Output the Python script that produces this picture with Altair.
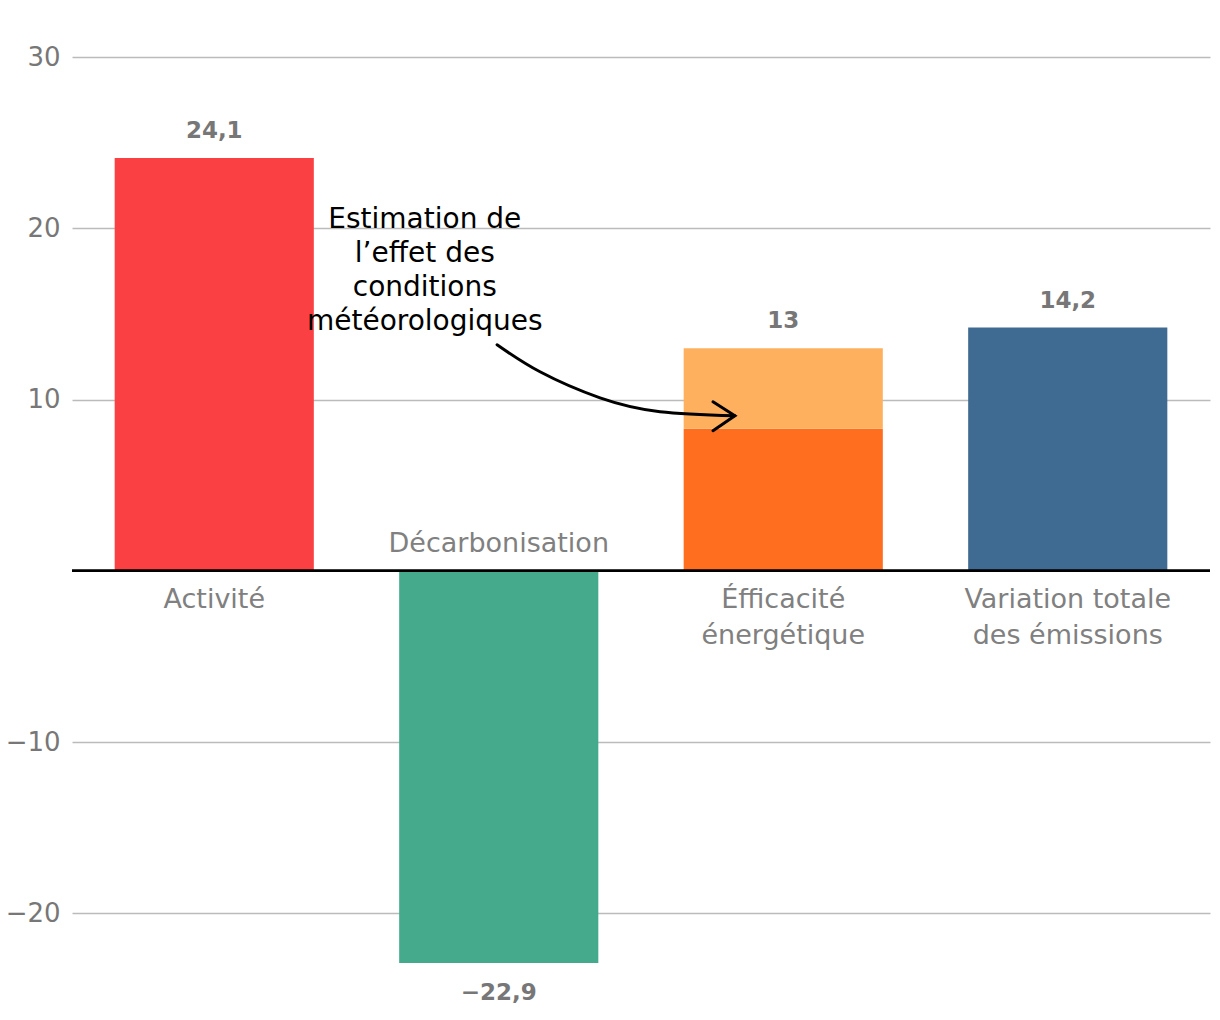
import altair as alt
import pandas as pd

FONT = "DejaVu Sans"

# Bars (segments)
categories = ["Activité", "Décarbonisation", "Éfficacité énergétique", "Variation totale des émissions"]
seg_cat = ["Activité", "Décarbonisation", "Éfficacité énergétique", "Éfficacité énergétique",
           "Variation totale des émissions"]
seg_start = [0, 0, 0, 8.3, 0]
seg_end = [24.1, -22.9, 8.3, 13.0, 14.2]
seg_color = ["#FA4043", "#44AA8B", "#FF6D1F", "#FFB05F", "#3F6A91"]

# Totals
totals = [24.1, -22.9, 13.0, 14.2]
total_labels = ["24,1", "−22,9", "13", "14,2"]

# Category label lines
cat_lines = [["Activité"], ["Décarbonisation"], ["Éfficacité", "énergétique"],
             ["Variation totale", "des émissions"]]

# Annotation (x in band units, 0..4)
note_lines = ["Estimation de", "l’effet des", "conditions", "météorologiques"]
note_x = [1.24]
note_y = [20.5]
arrow_x = [1.494, 1.645, 1.856, 2.067, 2.330]
arrow_y = [13.20, 11.62, 10.10, 9.29, 9.05]
head_x = [2.253, 2.330, 2.253]
head_y = [9.87, 9.05, 8.18]

y_ticks = [-20, -10, 10, 20, 30]

seg_df = pd.DataFrame({"cat": seg_cat, "start": seg_start, "end": seg_end, "color": seg_color})
tot_df = pd.DataFrame({"cat": categories, "total": totals, "label": total_labels,
                       "lines": cat_lines})
note_df = pd.DataFrame({"x": note_x, "y": note_y, "t": [note_lines]})
arrow_df = pd.DataFrame({"x": arrow_x, "y": arrow_y, "o": list(range(len(arrow_x)))})
head_df = pd.DataFrame({"x": head_x, "y": head_y, "o": list(range(len(head_x)))})

yscale = alt.Scale(domain=[-25, 30], nice=False, zero=False)
xband = alt.X("cat:N", sort=categories, axis=None,
              scale=alt.Scale(paddingInner=0.3, paddingOuter=0.15))

bars = alt.Chart(seg_df).mark_bar().encode(
    x=xband,
    y=alt.Y("start:Q", scale=yscale,
            axis=alt.Axis(values=y_ticks, title=None, domain=False, ticks=False,
                          labelFontSize=26, labelColor="#777777", labelFont=FONT,
                          labelPadding=12, gridColor="#BBBBBB", gridWidth=1.5,
                          format="d")),
    y2="end:Q",
    color=alt.Color("color:N", scale=None),
)

zero = alt.Chart(seg_df).mark_rule(color="black", strokeWidth=2).encode(y=alt.Y(datum=0))

pos_val = alt.Chart(tot_df).transform_filter("datum.total > 0").mark_text(
    font=FONT, fontSize=23, fontWeight="bold", color="#777777", baseline="alphabetic", dy=-20
).encode(x=xband, y=alt.Y("total:Q"), text="label:N")

neg_val = alt.Chart(tot_df).transform_filter("datum.total < 0").mark_text(
    font=FONT, fontSize=23, fontWeight="bold", color="#777777", baseline="alphabetic", dy=37
).encode(x=xband, y=alt.Y("total:Q"), text="label:N")

pos_cat = alt.Chart(tot_df).transform_filter("datum.total > 0").mark_text(
    font=FONT, fontSize=27, color="#808080", baseline="alphabetic", dy=37, lineHeight=36
).encode(x=xband, y=alt.Y(datum=0), text="lines")

neg_cat = alt.Chart(tot_df).transform_filter("datum.total < 0").mark_text(
    font=FONT, fontSize=27, color="#808080", baseline="alphabetic", dy=-19, lineHeight=36
).encode(x=xband, y=alt.Y(datum=0), text="lines")

band_base = alt.layer(bars, zero, pos_val, neg_val, pos_cat, neg_cat)

xq = alt.Scale(domain=[0, 4], nice=False, zero=False)

note = alt.Chart(note_df).mark_text(
    font=FONT, fontSize=28, color="black", baseline="middle", lineHeight=34
).encode(x=alt.X("x:Q", scale=xq, axis=None), y=alt.Y("y:Q"), text="t")

arrow = alt.Chart(arrow_df).mark_line(color="black", strokeWidth=3, interpolate="natural",
                                      strokeCap="round").encode(
    x=alt.X("x:Q", scale=xq, axis=None), y=alt.Y("y:Q"), order="o:Q")

head = alt.Chart(head_df).mark_line(color="black", strokeWidth=3, strokeCap="round",
                                    strokeJoin="miter").encode(
    x=alt.X("x:Q", scale=xq, axis=None), y=alt.Y("y:Q"), order="o:Q")

annot = alt.layer(note, arrow, head)

chart = alt.layer(band_base, annot).resolve_scale(x="independent").properties(
    width=1138, height=942,
    padding={"left": 72, "top": 57, "right": 10, "bottom": 21},
    autosize=alt.AutoSizeParams(type="none"),
).configure(background="white").configure_view(strokeWidth=0, stroke="transparent")

chart.save("out.html", embed_options={"renderer": "svg", "actions": False})
